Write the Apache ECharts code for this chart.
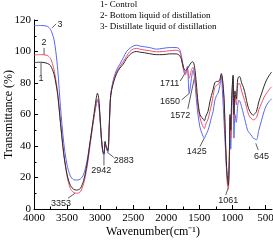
<!DOCTYPE html>
<html><head><meta charset="utf-8">
<script src="https://cdn.jsdelivr.net/npm/echarts@6/dist/echarts.min.js"></script>
<style>html,body{margin:0;padding:0;background:#fff}#c{width:273px;height:242px}</style>
</head><body><div id="c"></div>
<script>
const wavenumbers = [4000,3900,3800,3750,3700,3670,3640,3600,3550,3500,3450,3400,3353,3300,3250,3200,3150,3100,3060,3040,3020,3000,2980,2960,2942,2925,2910,2883,2860,2840,2800,2750,2700,2650,2600,2550,2500,2450,2400,2330,2250,2150,2050,1950,1850,1800,1770,1740,1712,1682,1652,1621,1596,1571,1545,1520,1490,1460,1440,1424,1400,1368,1340,1317,1290,1267,1240,1216,1190,1166,1150,1125,1100,1080,1061,1045,1035,1024,1010,989,975,960,940,920,900,887,860,830,800,770,736,700,685,660,634,600,560,520,482,440,406];
const control = [93,93.2,92.5,91,86,80,72,55,35,22,15,12.5,12,13,18,28,43,58,70,73.5,70,58,45,37,35,43,40,37,55,72,80,86,89.5,92,95.5,98,99.5,100,99.6,99.2,98.6,98,98,98.5,98.5,97.5,95,90,88,89,91,93,93.5,90,80,68,60,58,57,56,59,62,68,72,76,80,81,81,82,86,83,70,40,22,15,35,60,50,70,85,60,75,70,82,84,84,80,77,72,66,62,60,59.5,60.5,62,68,73,78,82,85,87];
const bottomLiquid = [97.8,98,97.5,95.5,89,82,73,55,35,21,13,10.5,10,11,16,26,41,56,67,70,67,57,45,37,35.5,42,40,37.5,55,72,81,87,90.5,93.5,97,100,101.5,102,101.5,101,100.5,99.8,100,100.5,100.8,100,96,88,85,89,83,88,90,85,75,65,58,54,52,51,54,57,62,66,72,77,78.5,79,81,85,82,68,38,18,12.5,33,58,45,68,84,56,72,66,78,80,79.5,75,71,67,62,58.5,57,56.5,57,58,63,67,71,73.5,76,77.6];
const distillate = [116.4,116.5,116,114,108,100,88,65,42,28,21,18.6,18.4,19,22,30,43,57,66,69,66,56,44,36,34,41,39,36,54,72,82,88.5,92,96,100,102,103.5,104,103.5,103,102.5,101.5,102,102.5,102.5,101.5,97,90,86,90.5,73.5,82,88,83,70,60,52,48,46,45,47,50,54,58,62,68.5,72,73.5,78,84,75,55,35,22,19,30,50,38,60,80,45,60,55,65,69,68.5,65,60,55,50,48,46,45,44.5,44,50,56,62,66,68.5,70];
const seriesNames = ['1- Control','2- Bottom liquid of distillation','3- Distillate liquid of distillation'];
const xTickValues = [500,1000,1500,2000,2500,3000,3500,4000];
const xMinorTickValues = [750,1250,1750,2250,2750,3250,3750];
const peakLabels = ['3','2','1','3353','2942','2883','1711','1650','1572','1425','645','1061'];
const peakPoints = [[3727,115],[3848,97.8],[3894,92.7],[3380,10],[2942,34],[2890,36],[1711,86.6],[1650,73.5],[1572,83.6],[1425,45],[645,41.7],[1061,13.5]];

const chart = echarts.init(document.getElementById('c'));
const serif = 'Liberation Serif';
const pairs = arr => wavenumbers.map((w,i)=>[w,arr[i]]);
const colors = ['#2b2b2b','#f0506a','#5567f5'];
const plain = v => String(v);
chart.setOption({
  animation:false,
  grid:{left:34,right:1,top:20,bottom:33,containLabel:false,outerBoundsMode:'none'},
  xAxis:[{
    type:'value',inverse:true,min:400,max:4000,
    name:'Wavenumber(cm\u207B\u00B9)',nameLocation:'middle',nameGap:17,nameMoveOverlap:false,
    nameTextStyle:{fontFamily:serif,fontSize:12,color:'#000'},
    axisLine:{lineStyle:{color:'#000',width:1}},
    axisTick:{inside:true,length:4,lineStyle:{color:'#000'},customValues:xTickValues},
    axisLabel:{fontFamily:serif,fontSize:11,color:'#000',margin:4,customValues:xTickValues,hideOverlap:false,formatter:plain},
    splitLine:{show:false}
  },{
    type:'value',inverse:true,min:400,max:4000,position:'bottom',
    axisLine:{show:false},
    axisTick:{inside:true,length:2.5,lineStyle:{color:'#000'},customValues:xMinorTickValues},
    axisLabel:{show:false},splitLine:{show:false}
  }],
  yAxis:{
    type:'value',min:0,max:120,interval:20,
    name:'Transmittance (%)',nameLocation:'middle',nameGap:19,nameMoveOverlap:false,
    nameTextStyle:{fontFamily:serif,fontSize:12,color:'#000'},
    axisLine:{show:true,lineStyle:{color:'#000',width:1}},
    axisTick:{show:true,inside:true,length:4,lineStyle:{color:'#000'}},
    minorTick:{show:true,splitNumber:2,length:2.5,lineStyle:{color:'#000'}},
    axisLabel:{fontFamily:serif,fontSize:11,color:'#000',margin:3,formatter:plain},
    splitLine:{show:false}
  },
  series:[
    {name:seriesNames[2],type:'line',data:pairs(distillate),showSymbol:false,lineStyle:{color:colors[2],width:1},smooth:0.3},
    {name:seriesNames[1],type:'line',data:pairs(bottomLiquid),showSymbol:false,lineStyle:{color:colors[1],width:1},smooth:0.3},
    {name:seriesNames[0],type:'line',data:pairs(control),showSymbol:false,lineStyle:{color:colors[0],width:1},smooth:0.3}
  ]
});

const leaderOff = [[4,-4],[0,-7],[0,12],[-7,5],[0,10],[6.3,5],[-5,8.4],[-7.7,6.7],[-6.7,31.7],[-4.3,8.4],[2.4,6.7],[-2.6,7.3]];
const textOff = [[8,-3],[0,-12],[0,16],[-14,10],[-2.6,15],[16.3,8.7],[-15.7,10.7],[-19.4,8.4],[-14.3,38.4],[-7.6,13.4],[5.7,13.4],[0,12.3]];
const g = [];
peakPoints.forEach((p,i)=>{
  const P = chart.convertToPixel({xAxisIndex:0,yAxisIndex:0},p);
  const L = [P[0]+leaderOff[i][0],P[1]+leaderOff[i][1]];
  const T = [P[0]+textOff[i][0],P[1]+textOff[i][1]];
  g.push({type:'line',shape:{x1:L[0],y1:L[1],x2:P[0],y2:P[1]},style:{stroke:'#333',lineWidth:0.8},silent:true});
  g.push({type:'text',x:T[0],y:T[1],style:{text:peakLabels[i],fontFamily:'Liberation Sans',fontSize:9,fill:'#222',align:'center',verticalAlign:'middle'},silent:true});
});
seriesNames.forEach((n,i)=>{
  g.push({type:'text',x:100,y:4.5+i*11,style:{text:n,fontFamily:serif,fontSize:9,fill:'#000',align:'left',verticalAlign:'middle'},silent:true});
});
chart.setOption({graphic:g});
</script></body></html>
